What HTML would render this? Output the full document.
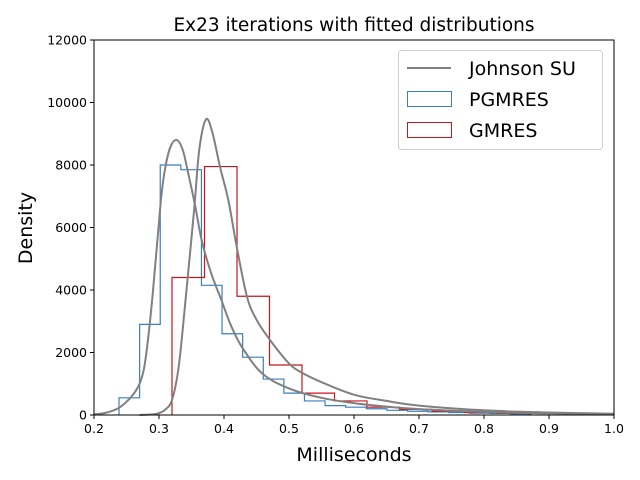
<!DOCTYPE html>
<html><head><meta charset="utf-8"><style>
body{margin:0;background:#fff;}
svg{display:block;font-family:"DejaVu Sans","Liberation Sans",sans-serif;}
</style></head><body>
<svg id="chart" width="640" height="480" viewBox="0 0 640 480"></svg>
<script>
const xTicks=[0.2,0.3,0.4,0.5,0.6,0.7,0.8,0.9,1.0];
const xTickLabels=["0.2","0.3","0.4","0.5","0.6","0.7","0.8","0.9","1.0"];
const yTicks=[0,2000,4000,6000,8000,10000,12000];
const pgStart=0.2385, pgWidth=0.0317;
const pgValues=[550,2900,8000,7850,4150,2600,1850,1150,700,450,300,250,200,150,120,100,80,60,50,40];
const gmStart=0.32, gmWidth=0.05;
const gmValues=[4400,7950,3800,1600,700,450,250,180,120,80,60];
const fit1X=[0.2,0.22,0.24,0.26,0.272,0.28,0.29,0.303,0.31,0.318,0.3277,0.337,0.345,0.3556,0.3656,0.38,0.396,0.41,0.4273,0.4585,0.5,0.55,0.6,0.65,0.7,0.8,0.9,1.0];
const fit1Y=[20,80,250,650,1100,1900,3800,6880,7950,8600,8800,8450,7733,6700,5600,4550,3680,2900,2186,1333,850,550,380,270,190,100,55,30];
const fit2X=[0.27,0.29,0.30,0.31,0.32,0.33,0.34,0.354,0.362,0.3723,0.382,0.3938,0.4066,0.4195,0.4354,0.45,0.4708,0.5,0.52,0.55,0.6,0.65,0.7,0.8,0.9,1.0];
const fit2Y=[0,20,60,180,480,1500,3500,6560,8500,9460,9050,7946,6880,5386,3786,3050,2400,1650,1350,1050,650,450,300,150,80,40];

const L=94,R=614,T=40,B=415;
const sx=v=>L+(v-0.2)/0.8*(R-L);
const sy=v=>B-v/12000*(B-T);
const svg=document.getElementById('chart');
const NS='http://www.w3.org/2000/svg';
function mk(tag,attrs,parent){const e=document.createElementNS(NS,tag);for(const k in attrs)e.setAttribute(k,attrs[k]);(parent||svg).appendChild(e);return e;}

let t=mk('text',{x:354,y:31,'text-anchor':'middle','font-size':'18.5'});t.textContent='Ex23 iterations with fitted distributions';



function stepPath(start,w,vals){let d='M'+sx(start)+','+sy(0);vals.forEach((v,i)=>{d+=' L'+sx(start+i*w)+','+sy(v)+' L'+sx(start+(i+1)*w)+','+sy(v);});d+=' L'+sx(start+vals.length*w)+','+sy(0);return d;}
let h1=mk('path',{d:stepPath(pgStart,pgWidth,pgValues),fill:'none',stroke:'#3a7fc1','stroke-width':1.2});


let h2=mk('path',{d:stepPath(gmStart,gmWidth,gmValues),fill:'none',stroke:'#c8161d','stroke-width':1.2});


function smooth(xs,ys){
 const p=xs.map((x,i)=>[sx(x),sy(ys[i])]);
 let d='M'+p[0][0].toFixed(1)+','+p[0][1].toFixed(1);
 for(let i=0;i<p.length-1;i++){
  const p0=p[Math.max(i-1,0)],p1=p[i],p2=p[i+1],p3=p[Math.min(i+2,p.length-1)];
  const c1=[p1[0]+(p2[0]-p0[0])/6,p1[1]+(p2[1]-p0[1])/6];
  const c2=[p2[0]-(p3[0]-p1[0])/6,p2[1]-(p3[1]-p1[1])/6];
  d+=' C'+c1[0].toFixed(1)+','+c1[1].toFixed(1)+' '+c2[0].toFixed(1)+','+c2[1].toFixed(1)+' '+p2[0].toFixed(1)+','+p2[1].toFixed(1);
 }
 return d;}
let f1=mk('path',{d:smooth(fit1X,fit1Y),fill:'none',stroke:'#808080','stroke-width':2,'stroke-linejoin':'round'});


let f2=mk('path',{d:smooth(fit2X,fit2Y),fill:'none',stroke:'#808080','stroke-width':2,'stroke-linejoin':'round'});



let frame=mk('rect',{x:L,y:T,width:R-L,height:B-T,fill:'none',stroke:'#000','stroke-width':1});



xTicks.forEach((v,i)=>{mk('line',{x1:sx(v),x2:sx(v),y1:B,y2:B+4,stroke:'#000'});
 const tx=mk('text',{x:sx(v),y:B+18,'text-anchor':'middle','font-size':'12.5'});tx.textContent=xTickLabels[i];
 
 });
yTicks.forEach(v=>{mk('line',{x1:L-4,x2:L,y1:sy(v),y2:sy(v),stroke:'#000'});
 const ty=mk('text',{x:L-7,y:sy(v)+4.5,'text-anchor':'end','font-size':'12.5'});ty.textContent=String(v);
 
 });
let xl=mk('text',{x:354,y:461,'text-anchor':'middle','font-size':'19'});xl.textContent='Milliseconds';


let yl=mk('text',{x:32,y:228,'text-anchor':'middle','font-size':'19',transform:'rotate(-90 32 228)'});yl.textContent='Density';



let lg=mk('g',{});


mk('rect',{x:398.5,y:50.5,width:204,height:99,rx:3,fill:'#fff','fill-opacity':0.8,stroke:'#d0d0d0'},lg);
mk('line',{x1:407,x2:451,y1:68,y2:68,stroke:'#808080','stroke-width':2},lg);
mk('rect',{x:407.5,y:91.5,width:44,height:15,fill:'none',stroke:'#3a7fc1'},lg);
mk('rect',{x:407.5,y:122.5,width:44,height:15,fill:'none',stroke:'#c8161d'},lg);
[['Johnson SU',75,'legend-entry-johnson'],['PGMRES',106,'legend-entry-pgmres'],['GMRES',137,'legend-entry-gmres']].forEach(a=>{
 const e=mk('text',{x:469,y:a[1],'font-size':'19'},lg);e.textContent=a[0];
 
 });
</script>
</body></html>
